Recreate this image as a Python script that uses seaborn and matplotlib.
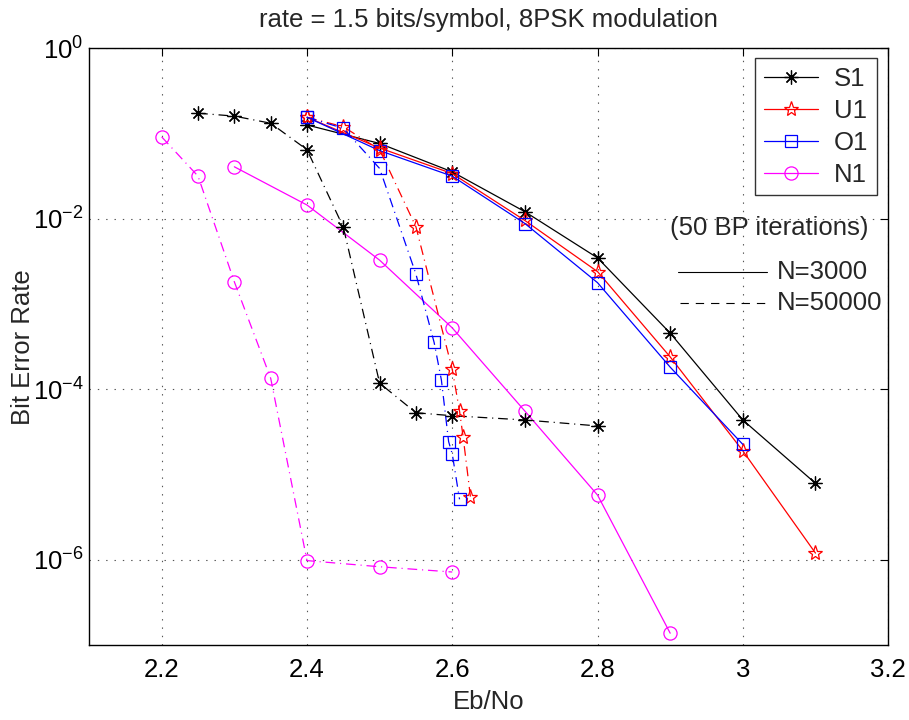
import numpy as np
import pandas as pd
import matplotlib
matplotlib.use("Agg")
import matplotlib.pyplot as plt
from matplotlib.lines import Line2D
import seaborn as sns

# ---- data ----
x_S1_3000 = [2.4, 2.5, 2.6, 2.7, 2.8, 2.9, 3.0, 3.1]
y_S1_3000 = [0.126, 0.0764, 0.0355, 0.0121, 3.48e-3, 4.56e-4, 4.37e-5, 7.9e-6]
x_U1_3000 = [2.4, 2.5, 2.6, 2.7, 2.8, 2.9, 3.0, 3.1]
y_U1_3000 = [0.155, 0.0676, 0.0339, 9.55e-3, 2.4e-3, 2.4e-4, 1.9e-5, 1.2e-6]
x_O1_3000 = [2.4, 2.5, 2.6, 2.7, 2.8, 2.9, 3.0]
y_O1_3000 = [0.155, 0.063, 0.0316, 8.8e-3, 1.78e-3, 1.82e-4, 2.26e-5]
x_N1_3000 = [2.3, 2.4, 2.5, 2.6, 2.7, 2.8, 2.9]
y_N1_3000 = [0.0407, 0.0145, 3.27e-3, 5.25e-4, 5.55e-5, 5.75e-6, 1.38e-7]

x_S1_50000 = [2.25, 2.3, 2.35, 2.4, 2.45, 2.5, 2.55, 2.6, 2.7, 2.8]
y_S1_50000 = [0.173, 0.16, 0.132, 0.0646, 7.98e-3, 1.18e-4, 5.31e-5, 4.9e-5, 4.37e-5, 3.72e-5]
x_U1_50000 = [2.4, 2.45, 2.5, 2.55, 2.6, 2.61, 2.615, 2.625]
y_U1_50000 = [0.155, 0.12, 0.0646, 8.04e-3, 1.71e-4, 5.55e-5, 2.75e-5, 5.5e-6]
x_O1_50000 = [2.4, 2.45, 2.5, 2.55, 2.575, 2.585, 2.595, 2.6, 2.61]
y_O1_50000 = [0.155, 0.115, 0.0389, 2.24e-3, 3.55e-4, 1.29e-4, 2.43e-5, 1.74e-5, 5.13e-6]
x_N1_50000 = [2.2, 2.25, 2.3, 2.35, 2.4, 2.5, 2.6]
y_N1_50000 = [0.0912, 0.0316, 1.82e-3, 1.35e-4, 9.8e-7, 8.3e-7, 7.2e-7]

codes = ["S1", "U1", "O1", "N1"]
title = "rate = 1.5 bits/symbol, 8PSK modulation"
xlabel = "Eb/No"
ylabel = "Bit Error Rate"
xticks = [2.2, 2.4, 2.6, 2.8, 3.0, 3.2]
xticklabels = ["2.2", "2.4", "2.6", "2.8", "3", "3.2"]
yticks = [1e0, 1e-2, 1e-4, 1e-6]

series = {
    ("S1", "3000"): (x_S1_3000, y_S1_3000),
    ("U1", "3000"): (x_U1_3000, y_U1_3000),
    ("O1", "3000"): (x_O1_3000, y_O1_3000),
    ("N1", "3000"): (x_N1_3000, y_N1_3000),
    ("S1", "50000"): (x_S1_50000, y_S1_50000),
    ("U1", "50000"): (x_U1_50000, y_U1_50000),
    ("O1", "50000"): (x_O1_50000, y_O1_50000),
    ("N1", "50000"): (x_N1_50000, y_N1_50000),
}
rows = []
for (code, n), (xs, ys) in series.items():
    for xv, yv in zip(xs, ys):
        rows.append({"code": code, "N": n, "x": xv, "y": yv})
df = pd.DataFrame(rows)

# ---- style ----
sns.set_theme(style="white")
plt.rcParams["font.family"] = ["Liberation Sans", "DejaVu Sans"]
plt.rcParams["mathtext.fontset"] = "custom"
plt.rcParams["mathtext.rm"] = "Liberation Sans"
plt.rcParams["mathtext.it"] = "Liberation Sans"
plt.rcParams["lines.scale_dashes"] = False

FS = 18.5
colors = {"S1": "#000000", "U1": "#ff0000", "O1": "#0000ff", "N1": "#ff00ff"}
asterisk = (8, 2, 0)
markers = {"S1": asterisk, "U1": "*", "O1": "s", "N1": "o"}
msizes = {"S1": 10, "U1": 11, "O1": 8, "N1": 9.5}
dashdot = (0, (7, 3.5, 0.8, 3.5))

fig = plt.figure(figsize=(9.09, 7.2), dpi=100)
ax = fig.add_axes([0.098, 0.104, 0.879, 0.829])

for (code, n) in series:
    sub = df[(df.code == code) & (df.N == n)]
    ls = "-" if n == "3000" else dashdot
    sns.lineplot(data=sub, x="x", y="y", ax=ax, estimator=None, sort=False,
                 color=colors[code], linewidth=0.9, linestyle=ls,
                 marker=markers[code], markersize=msizes[code],
                 markerfacecolor="none", markeredgecolor=colors[code],
                 markeredgewidth=0.9, legend=False)

ax.set_yscale("log")
ax.set_xlim(2.1, 3.2)
ax.set_ylim(1e-7, 1e0)
ax.set_xticks(xticks)
ax.set_xticklabels(xticklabels)
ax.set_yticks(yticks)
ax.yaxis.set_minor_locator(matplotlib.ticker.NullLocator())
ax.tick_params(axis="both", which="major", direction="in", length=6,
               width=0.8, top=True, right=True, labelsize=FS, colors="black")
ax.tick_params(axis="x", pad=9)
ax.tick_params(axis="y", pad=4)
ax.grid(True, which="major", color="#555555", linestyle=(0, (1, 5)), linewidth=0.8)
for sp in ax.spines.values():
    sp.set_color("black")
    sp.set_linewidth(1.0)

ax.set_title(title, fontsize=FS, pad=15)
ax.set_xlabel(xlabel, fontsize=FS, labelpad=6)
ax.set_ylabel(ylabel, fontsize=FS, labelpad=-2)

handles = [Line2D([0], [0], color=colors[c], linewidth=0.9, marker=markers[c],
                  markersize=msizes[c], markerfacecolor="none",
                  markeredgecolor=colors[c], markeredgewidth=0.9) for c in codes]
leg = ax.legend(handles, codes, loc="upper right", bbox_to_anchor=(0.986, 0.983),
                borderaxespad=0, fontsize=FS, handlelength=2.1, handletextpad=0.6,
                labelspacing=0.3, borderpad=0.35, fancybox=False, frameon=True)
leg.get_frame().set_edgecolor("black")
leg.get_frame().set_linewidth(1.0)

ax.text(0.727, 0.698, "(50 BP iterations)", transform=ax.transAxes,
        fontsize=FS, va="center", ha="left")
ax.plot([0.737, 0.849], [0.625, 0.625], transform=ax.transAxes, color="black",
        linewidth=0.8)
ax.text(0.861, 0.625, "N=3000", transform=ax.transAxes, fontsize=FS,
        va="center", ha="left")
ax.plot([0.740, 0.849], [0.573, 0.573], transform=ax.transAxes, color="black",
        linewidth=0.8, linestyle=(0, (6, 5)))
ax.text(0.861, 0.573, "N=50000", transform=ax.transAxes, fontsize=FS,
        va="center", ha="left")

fig.savefig("out.png", dpi=100)
